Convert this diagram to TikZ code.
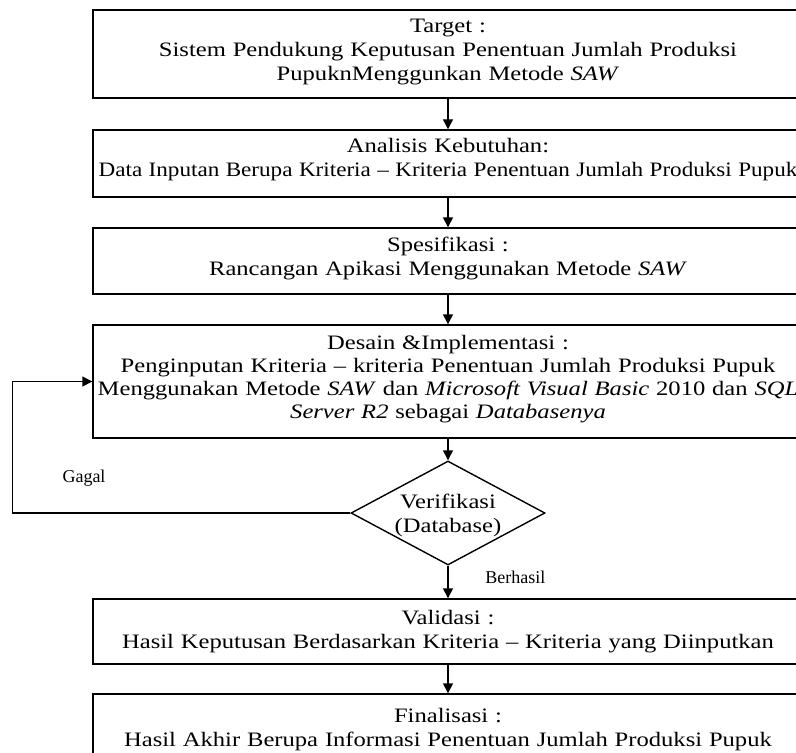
\documentclass[tikz,border=0pt]{standalone}
\usepackage{fontspec}
\setmainfont{Liberation Serif}
\newfontfamily\boxfont[FakeStretch=1.2,Ligatures=TeX]{Liberation Serif}
\usetikzlibrary{arrows.meta,shapes.geometric}

\begin{document}
\begin{tikzpicture}[x=.5pt,y=-.5pt,
  box/.style={draw,line width=.7pt,text width=351pt,inner xsep=2pt,inner ysep=0pt,
    align=center,font=\boxfont\fontsize{10.25pt}{12pt}\selectfont},
  decision/.style={draw,diamond,line width=.7pt,inner sep=0pt,minimum width=97pt,
    minimum height=52pt,text height=5pt,text depth=10pt,
    font=\boxfont\fontsize{10.25pt}{12pt}\selectfont},
  tag/.style={font=\fontsize{9pt}{10pt}\selectfont,inner sep=0pt},
  arrow/.style={draw,line width=.7pt,-{Triangle[length=5pt,width=5pt]}}
]
\useasboundingbox (0,0) rectangle (796,753);
\clip (0,0) rectangle (796,753);
\node[box,text height=11.5pt,text depth=32.5pt] (target) at (448,54)
  {Target :\\ Sistem Pendukung Keputusan Penentuan Jumlah Produksi\\
   PupuknMenggunkan Metode \textit{SAW}};
\node[box,text height=11.5pt,text depth=22pt] (analisis) at (448,163.5)
  {Analisis Kebutuhan:\\
   \mbox{\scalebox{.94}[1]{Data Inputan Berupa Kriteria -- Kriteria Penentuan Jumlah Produksi Pupuk}}};
\node[box,text height=12pt,text depth=21pt] (spek) at (448,261)
  {Spesifikasi :\\ Rancangan Apikasi Menggunakan Metode \textit{SAW}};
\node[box,text height=12pt,text depth=44.5pt,
  font=\boxfont\fontsize{10.25pt}{11.5pt}\selectfont] (desain) at (448,381.5)
  {Desain \&Implementasi :\\
   \mbox{Penginputan Kriteria -- kriteria Penentuan Jumlah Produksi Pupuk}\\
   \mbox{Menggunakan Metode \textit{SAW} dan \textit{Microsoft Visual Basic} 2010 dan \textit{SQL}}\\
   \textit{Server R2} sebagai \textit{Databasenya}};
\node[decision] (verif) at (448,513)
  {\makebox[0pt]{\parbox[t]{100pt}{\centering Verifikasi\\(Database)}}};
\node[box,text height=12.5pt,text depth=20pt] (validasi) at (448,631.5)
  {Validasi :\\ Hasil Keputusan Berdasarkan Kriteria -- Kriteria yang Diinputkan};
\node[box,text height=14pt,text depth=21pt] (final) at (448,729)
  {Finalisasi :\\ Hasil Akhir Berupa Informasi Penentuan Jumlah Produksi Pupuk};
\node[tag] (gagal) at (84,478) {Gagal};
\node[tag,anchor=west] (berhasil) at (485,577) {Berhasil};
% alur utama
\draw[arrow] (target) -- (analisis);
\draw[arrow] (analisis) -- (spek);
\draw[arrow] (spek) -- (desain);
\draw[arrow] (desain) -- (verif);
\draw[arrow] (verif) -- (validasi);
\draw[arrow] (validasi) -- (final);
% kembali jika gagal
\draw[arrow] (verif.west) -- ++(-338,0) |- (desain.west);
\end{tikzpicture}
\end{document}
